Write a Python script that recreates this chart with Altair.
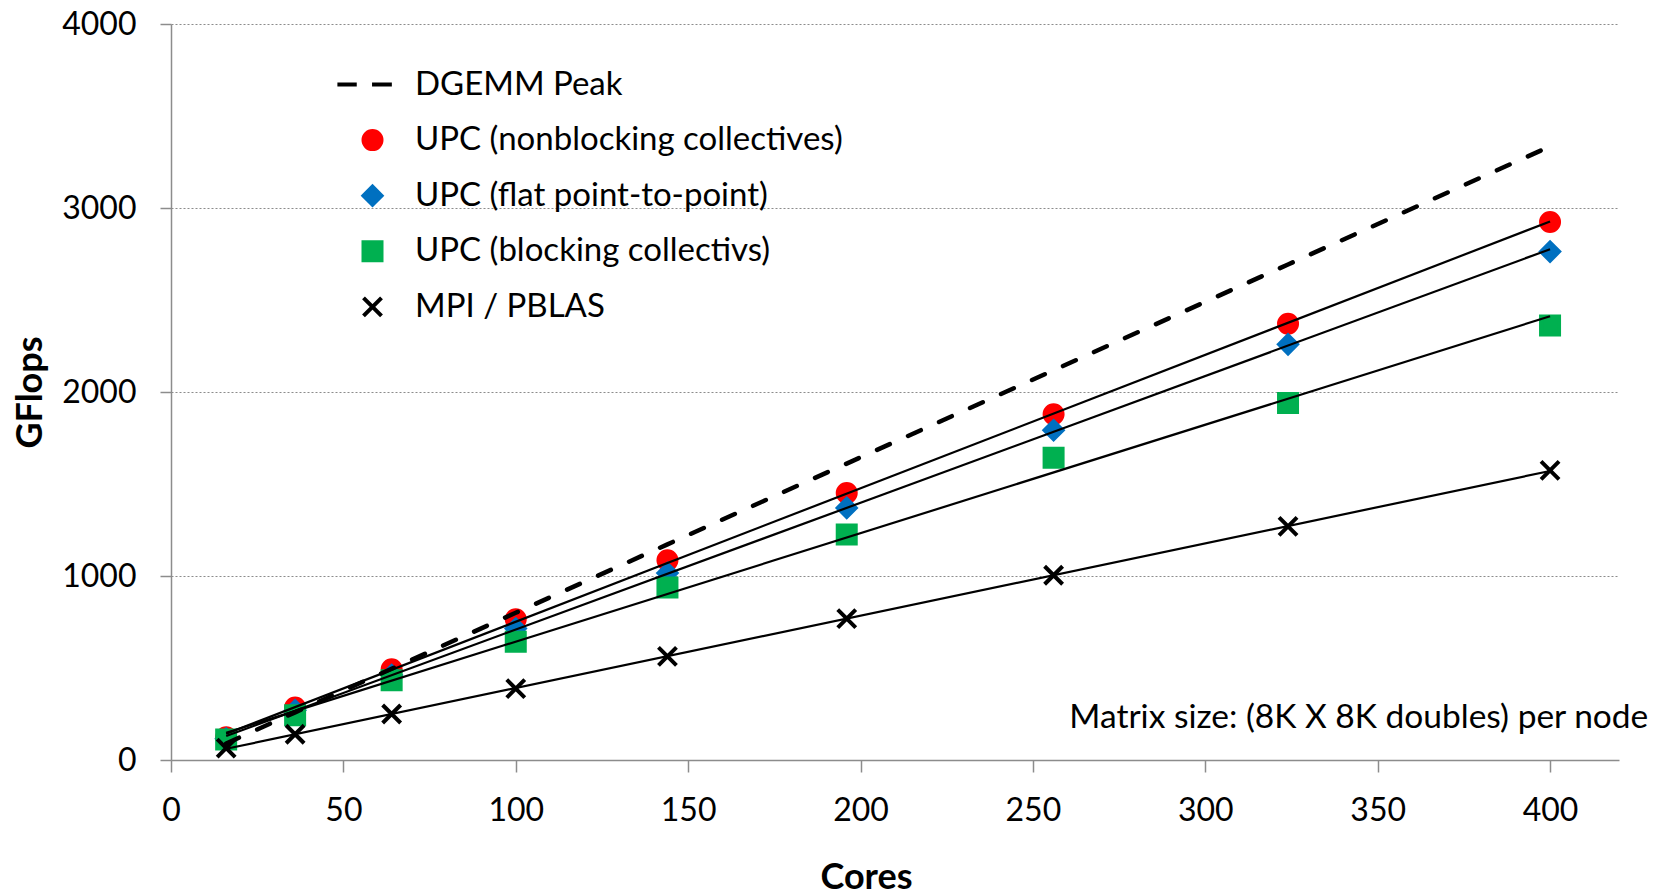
import altair as alt
import pandas as pd

# ---- data ----
cores = [16, 36, 64, 100, 144, 196, 256, 324, 400]
dgemm_peak = [90, 259, 496, 800, 1172, 1611, 2118, 2693, 3335]
upc_nonblocking = [123, 285, 493, 765, 1085, 1451, 1879, 2371, 2924]
upc_flat = [116, 270, 462, 714, 1016, 1370, 1792, 2259, 2763]
upc_blocking = [111, 243, 433, 643, 937, 1226, 1643, 1940, 2362]
mpi_pblas = [65, 140, 250, 388, 563, 768, 1004, 1270, 1574]

series_names = [
    "DGEMM Peak",
    "UPC (nonblocking collectives)",
    "UPC (flat point-to-point)",
    "UPC (blocking collectivs)",
    "MPI / PBLAS",
]
x_ticks = [0, 50, 100, 150, 200, 250, 300, 350, 400]
y_ticks = [0, 1000, 2000, 3000, 4000]
note_text = "Matrix size: (8K X 8K doubles) per node"

# ---- tables ----
measured = pd.DataFrame(
    [
        {"series": name, "cores": c, "gflops": v}
        for name, vals in [
            (series_names[1], upc_nonblocking),
            (series_names[2], upc_flat),
            (series_names[3], upc_blocking),
            (series_names[4], mpi_pblas),
        ]
        for c, v in zip(cores, vals)
    ]
)
peak_df = pd.DataFrame({"cores": cores, "gflops": dgemm_peak})
note_df = pd.DataFrame({"note": [note_text]})

FONT = "Lato"
AXIS_GREY = "#8c8c8c"

x_scale = alt.Scale(domain=[0, 420], nice=False, zero=True)
y_scale = alt.Scale(domain=[0, 4000], nice=False, zero=True)

x_axis = alt.Axis(
    values=x_ticks, title="Cores", grid=False, format="d",
    labelFont=FONT, labelFontSize=32, labelColor="black", labelPadding=23,
    labelFlush=False, labelOverlap=False,
    tickColor=AXIS_GREY, tickSize=12, tickWidth=1.5,
    domainColor=AXIS_GREY, domainWidth=1.5,
    titleFont=FONT, titleFontSize=36, titleFontWeight="bold", titleColor="black",
    titleX=695, titleY=128, titleAlign="center", titleBaseline="alphabetic",
)
y_axis = alt.Axis(
    values=y_ticks, title="GFlops", grid=True, format="d",
    gridColor=AXIS_GREY, gridDash=[2, 2], gridWidth=1.2,
    labelFont=FONT, labelFontSize=32, labelColor="black", labelPadding=24,
    labelFlush=False, labelOverlap=False,
    tickColor=AXIS_GREY, tickSize=11, tickWidth=1.5,
    domainColor=AXIS_GREY, domainWidth=1.5,
    titleFont=FONT, titleFontSize=36, titleFontWeight="bold", titleColor="black",
    titleAngle=-90, titleX=-130, titleY=368, titleAlign="center", titleBaseline="alphabetic",
)

X = alt.X("cores:Q", scale=x_scale, axis=x_axis)
Y = alt.Y("gflops:Q", scale=y_scale, axis=y_axis)

DASH = "M-3.9,0H-1.75M-0.05,0H2.15"
XPATH = "M-1,-1L1,1M-1,1L1,-1"

shape_scale = alt.Scale(domain=series_names, range=[DASH, "circle", "diamond", "square", XPATH])
fill_scale = alt.Scale(domain=series_names, range=["transparent", "#FF0000", "#0070C0", "#00B050", "transparent"])
stroke_scale = alt.Scale(domain=series_names, range=["#000000", "#FF0000", "#0070C0", "#00B050", "#000000"])

legend = alt.Legend(
    title=None, orient="none", legendX=185, legendY=44,
    labelFont=FONT, labelFontSize=33, labelColor="black", labelLimit=900,
    symbolSize=324, symbolStrokeWidth=4, rowPadding=20.6, labelOffset=26,
    padding=0, symbolOpacity=1,
)

points = alt.Chart(measured).mark_point(
    filled=True, size=324, strokeWidth=4, opacity=1
).encode(
    x=X, y=Y,
    shape=alt.Shape("series:N", scale=shape_scale, legend=legend),
    fill=alt.Fill("series:N", scale=fill_scale, legend=legend),
    stroke=alt.Stroke("series:N", scale=stroke_scale, legend=legend),
)

trend = alt.Chart(measured).transform_regression(
    "cores", "gflops", groupby=["series"], extent=[16, 400], method="linear"
).mark_line(color="black", strokeWidth=2.2).encode(
    x=X, y=Y, detail="series:N"
)

peak = alt.Chart(peak_df).mark_line(
    color="black", strokeWidth=4.5, strokeDash=[14, 20], strokeCap="round"
).encode(x=X, y=Y)

note = alt.Chart(note_df).mark_text(
    align="right", baseline="alphabetic", font=FONT, fontSize=33.5, color="black"
).encode(x=alt.datum(428.5), y=alt.datum(172), text="note:N")

chart = alt.layer(points, trend, peak, note).properties(
    width=1448, height=736,
    padding={"left": 171, "top": 24, "right": 35, "bottom": 136},
    autosize=alt.AutoSizeParams(type="none"),
    background="white",
).configure_view(stroke=None)

chart.save("out.html", embed_options={"renderer": "svg", "actions": False})
